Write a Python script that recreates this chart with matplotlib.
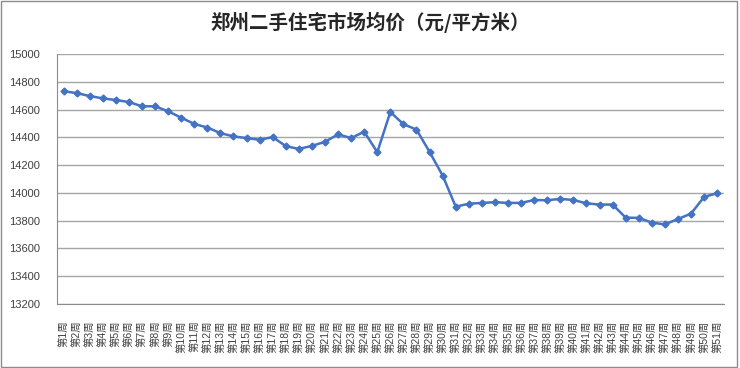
import matplotlib
matplotlib.use("Agg")
import matplotlib.pyplot as plt
from matplotlib.patches import Rectangle

plt.rcParams["font.family"] = ["Liberation Sans", "Noto Sans CJK SC", "DejaVu Sans"]

# --- данные ---
weeks = [f"第{i}周" for i in range(1, 52)]
prices = [
    14733, 14719, 14698, 14681, 14669, 14655, 14624, 14624, 14588, 14542,
    14497, 14471, 14431, 14407, 14395, 14383, 14402, 14337, 14317, 14339,
    14368, 14422, 14395, 14441, 14293, 14583, 14495, 14456, 14295, 14125,
    13901, 13922, 13928, 13933, 13928, 13928, 13949, 13947, 13957, 13949,
    13925, 13916, 13916, 13822, 13820, 13786, 13773, 13812, 13851, 13971,
    13998,
]
y_ticks = list(range(13200, 15001, 200))
title = "郑州二手住宅市场均价（元/平方米）"

fig = plt.figure(figsize=(7.4, 3.68), dpi=100)
fig.patches.append(Rectangle((0.002, 0.004), 0.994, 0.992, transform=fig.transFigure,
                             fill=False, edgecolor="#8c8c8c", linewidth=1))
ax = fig.add_axes([0.077, 0.174, 0.901, 0.679])

x = list(range(len(weeks)))
ax.plot(x, prices, color="#4472C4", linewidth=1.8, marker="D", markersize=3.5,
        markerfacecolor="#4472C4", markeredgecolor="#4472C4")

ax.set_xlim(-0.5, len(weeks) - 0.5)
ax.set_ylim(y_ticks[0], y_ticks[-1])
ax.set_yticks(y_ticks)
ax.set_xticks(x)
ax.set_xticklabels(weeks, rotation=90, fontsize=7.5, color="#404040")
ax.tick_params(axis="y", labelsize=8, colors="#404040", length=0, pad=12)
ax.tick_params(axis="x", length=0, pad=12)
ax.grid(axis="y", color="#a6a6a6", linewidth=1)
ax.set_axisbelow(True)
for s in ["top", "right"]:
    ax.spines[s].set_visible(False)
ax.spines["left"].set_color("#8c8c8c")
ax.spines["bottom"].set_color("#8c8c8c")

fig.text(0.5, 0.94, title, ha="center", va="center", fontsize=14,
         fontweight="bold", family=["Noto Sans CJK SC", "DejaVu Sans"], color="#262626")

plt.savefig("out.png", dpi=100)
